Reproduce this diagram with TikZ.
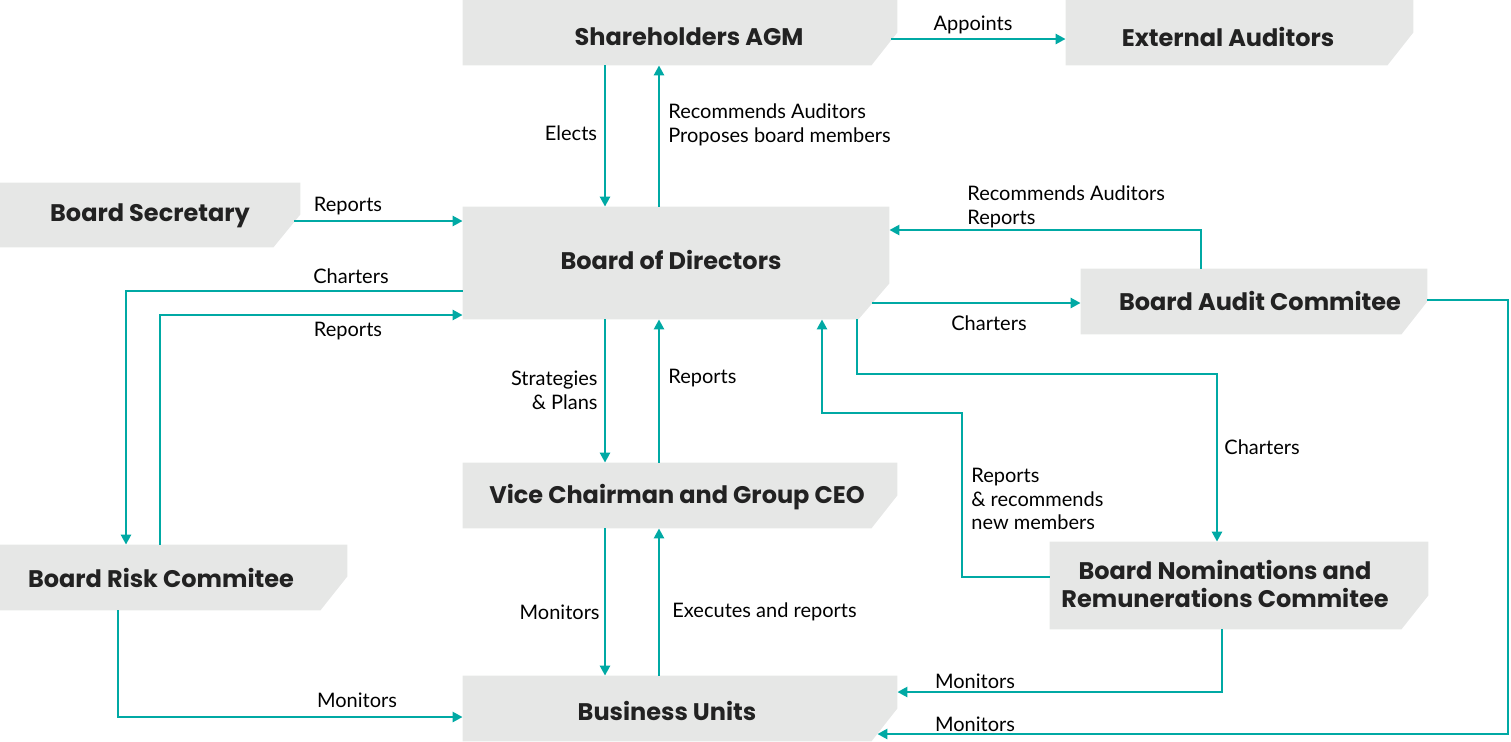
\documentclass[tikz,border=0pt]{standalone}
\usepackage{fontspec}
\setmainfont{Lato}
\newfontfamily\boxfont{Poppins}
\usetikzlibrary{arrows.meta,calc,fit}
\definecolor{teal1}{HTML}{00A9A4}
\definecolor{boxgray}{HTML}{E6E7E6}
\definecolor{ink}{HTML}{222222}
\newcommand\gbox[7]{%
  \node[fit={(#2,#3) (#4,#5)}, inner sep=0pt] (#1) {};
  \fill[boxgray] (#1.north west) -- (#1.north east) -- ($(#1.south east)+(0,-#7)$)
     -- ($(#1.south east)+(-#6,0)$) -- (#1.south west) -- cycle;
}
\begin{document}
\begin{tikzpicture}[x=0.5pt,y=-0.5pt,
  conn/.style={draw=teal1, line width=1.45pt, -{Triangle[length=5pt,width=5pt]}},
  lbl/.style={font=\fontsize{10}{11.8}\selectfont, text=black, inner sep=0pt, yshift=-1pt},
  title/.style={font=\boxfont\bfseries\fontsize{12}{14}\selectfont, text=ink, inner sep=0pt, align=center}]
\useasboundingbox (0,0) rectangle (1511,741);

% boxes
\gbox{sh}{463}{0}{897}{65}{26}{33}
\gbox{ea}{1066}{0}{1413}{65}{26}{33}
\gbox{bs}{0}{183}{300}{247}{27}{33}
\gbox{bod}{463}{207}{889}{319}{31}{36}
\gbox{bac}{1081}{269}{1427}{334}{26}{33}
\gbox{vc}{463}{463}{897}{528}{26}{33}
\gbox{brc}{0}{545}{347}{610}{27}{34}
\gbox{bnr}{1050}{542}{1428}{629}{27}{34}
\gbox{bu}{463}{676}{897}{741}{26}{33}

% titles
\node[title] (sh-t) at (689,37) {Shareholders AGM};
\node[title] (ea-t) at (1228,37) {External Auditors};
\node[title] (bs-t) at (150,216) {Board Secretary};
\node[title] (bod-t) at (671,260) {Board of Directors};
\node[title] (bac-t) at (1260,301) {Board Audit Commitee};
\node[title] (vc-t) at (677,497) {Vice Chairman and Group CEO};
\node[title] (brc-t) at (161,578) {Board Risk Commitee};
\node[title] (bnr-t) at (1225,584) {Board Nominations and\\Remunerations Commitee};
\node[title] (bu-t) at (667,711) {Business Units};

% helper coordinates
\coordinate (cA) at (605,0);
\coordinate (cB) at (659,0);
\coordinate (r39) at (0,39);
\coordinate (r221) at (0,221);
\coordinate (c126) at (126,0);
\coordinate (r291) at (0,291);
\coordinate (c160) at (160,0);
\coordinate (r315) at (0,315);
\coordinate (c1201) at (1201,0);
\coordinate (r230) at (0,230);
\coordinate (r303) at (0,303);
\coordinate (c857) at (857,0);
\coordinate (r374) at (0,374);
\coordinate (c1217) at (1217,0);
\coordinate (r577) at (0,577);
\coordinate (c962) at (962,0);
\coordinate (r413) at (0,413);
\coordinate (c822) at (822,0);
\coordinate (c118) at (118,0);
\coordinate (r717) at (0,717);
\coordinate (c1222) at (1222,0);
\coordinate (r692) at (0,692);
\coordinate (r300) at (0,300);
\coordinate (c1508) at (1508,0);
\coordinate (r734) at (0,734);

% connectors
\draw[conn] (sh.south-|cA) -- (bod.north-|cA);
\draw[conn] (bod.north-|cB) -- (sh.south-|cB);
\draw[conn] ($(sh.east|-r39)+(-6,0)$) -- (ea.west|-r39);
\draw[conn] ($(bs.east|-r221)+(-6,0)$) -- (bod.west|-r221);
\draw[conn] (bod.west|-r291) -| (brc.north-|c126);
\draw[conn] (brc.north-|c160) |- (bod.west|-r315);
\draw[conn] (bod.south-|cA) -- (vc.north-|cA);
\draw[conn] (vc.north-|cB) -- (bod.south-|cB);
\draw[conn] (bac.north-|c1201) |- (bod.east|-r230);
\draw[conn] ($(bod.east|-r303)+(-17,0)$) -- (bac.west|-r303);
\draw[conn] (bod.south-|c857) |- (r374-|c1217) -- (bnr.north-|c1217);
\draw[conn] (bnr.west|-r577) -| (r413-|c962) -| (bod.south-|c822);
\draw[conn] (vc.south-|cA) -- (bu.north-|cA);
\draw[conn] (bu.north-|cB) -- (vc.south-|cB);
\draw[conn] (brc.south-|c118) |- (bu.west|-r717);
\draw[conn] (bnr.south-|c1222) |- (bu.east|-r692);
\draw[conn] (bac.east|-r300) -| (r734-|c1508) -- ($(bu.east|-r734)+(-20,0)$);

% labels
\node[lbl] (l1) at (571,131) {Elects};
\node[lbl, anchor=west, align=left] (l2) at (668,123) {Recommends Auditors\\Proposes board members};
\node[lbl] (l3) at (973,23) {Appoints};
\node[lbl] (l4) at (348,204) {Reports};
\node[lbl] (l5) at (351,274) {Charters};
\node[lbl] (l6) at (348,329) {Reports};
\node[lbl, anchor=east, align=right] (l7) at (598,388) {Strategies\\\& Plans};
\node[lbl, anchor=west] (l8) at (668,376) {Reports};
\node[lbl, anchor=west, align=left] (l9) at (967,205) {Recommends Auditors\\Reports};
\node[lbl] (l10) at (989,321) {Charters};
\node[lbl, anchor=west] (l11) at (1224,445) {Charters};
\node[lbl, anchor=west, align=left] (l12) at (971,497) {Reports\\\& recommends\\new members};
\node[lbl, anchor=east] (l13) at (600,610) {Monitors};
\node[lbl, anchor=west] (l14) at (672,610) {Executes and reports};
\node[lbl] (l15) at (357,698) {Monitors};
\node[lbl] (l16) at (975,679) {Monitors};
\node[lbl] (l17) at (975,722) {Monitors};
\end{tikzpicture}
\end{document}
